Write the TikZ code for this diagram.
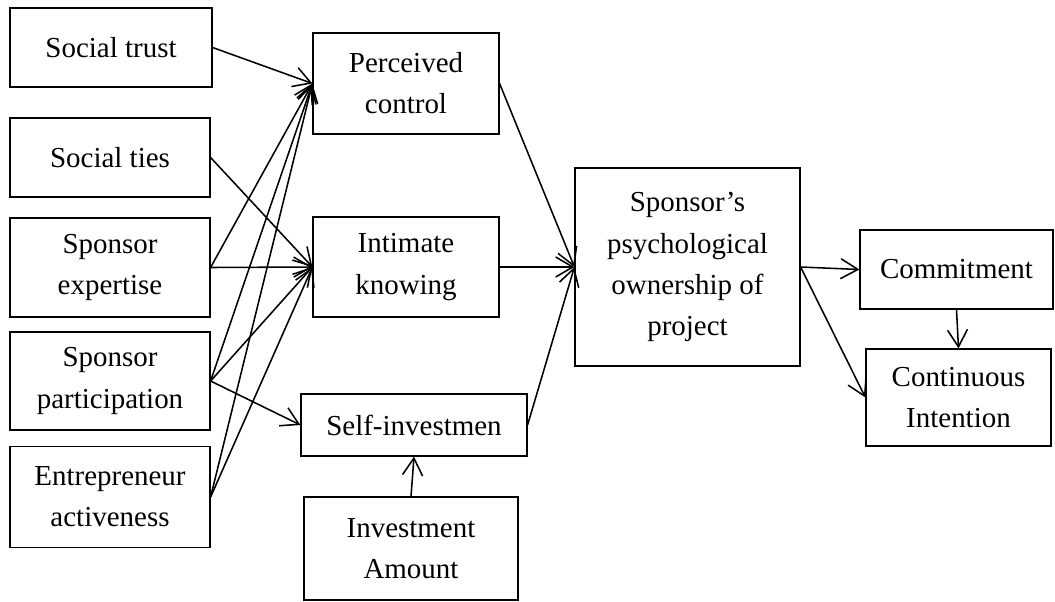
\documentclass[tikz,border=0pt]{standalone}
\usepackage{fontspec}
\setmainfont{Liberation Serif}
\usetikzlibrary{arrows.meta}

\begin{document}
\begin{tikzpicture}[
x=0.025cm, y=-0.025cm,
font=\fontsize{20.6}{29.2}\selectfont,
arr/.style={draw, line width=1.1pt, -{Straight Barb[length=4.3mm,width=5mm,line width=1.1pt]}}
]

\tikzstyle{b} = [draw, line width=0.8pt, shape=rectangle, align=center, inner sep=0pt]

\useasboundingbox (0,0) rectangle (1055,601);

% left column
\node[b, minimum width=5.05cm, minimum height=1.975cm] (trust) at (111,47.5) {Social trust};
\node[b, minimum width=5cm, minimum height=1.975cm] (ties) at (110,157.5) {Social ties};
\node[b, minimum width=5cm, minimum height=2.475cm] (expertise) at (110,267.5) {Sponsor\\expertise};
\node[b, minimum width=5cm, minimum height=2.45cm] (participation) at (110,381) {Sponsor\\participation};
\node[b, minimum width=5cm, minimum height=2.525cm] (activeness) at (110,497) {Entrepreneur\\activeness};

% middle column
\node[b, minimum width=4.65cm, minimum height=2.525cm] (control) at (406,83.5) {Perceived\\control};
\node[b, minimum width=4.65cm, minimum height=2.5cm] (knowing) at (406,267) {Intimate\\knowing};
\node[b, minimum width=5.65cm, minimum height=1.55cm] (selfinv) at (414,425) {Self-investmen};
\node[b, minimum width=5.35cm, minimum height=2.575cm] (amount) at (411,548.5) {Investment\\Amount};

\node[b, minimum width=5.625cm, minimum height=4.95cm] (ownership) at (687.5,267) {Sponsor’s\\psychological\\ownership of\\project};

% outcomes
\node[b, minimum width=4.825cm, minimum height=1.975cm] (commitment) at (956.5,269.5) {Commitment};
\node[b, minimum width=4.625cm, minimum height=2.425cm] (continuous) at (958.5,397.5) {Continuous\\Intention};

\foreach \s in {trust,expertise,participation,activeness}
    \draw[arr] (\s.east) -- (control.west);
\foreach \s in {ties,expertise,participation,activeness}
    \draw[arr] (\s.east) -- (knowing.west);
\draw[arr] (participation.east) -- (selfinv.west);
\draw[arr] (amount.north) -- (selfinv.south);

\foreach \s in {control,knowing,selfinv}
    \draw[arr] (\s.east) -- (ownership.west);
\draw[arr] (ownership.east) -- (commitment.west);
\draw[arr] (ownership.east) -- (continuous.west);
\draw[arr] (commitment.south) -- (continuous.north);
\end{tikzpicture}
\end{document}
